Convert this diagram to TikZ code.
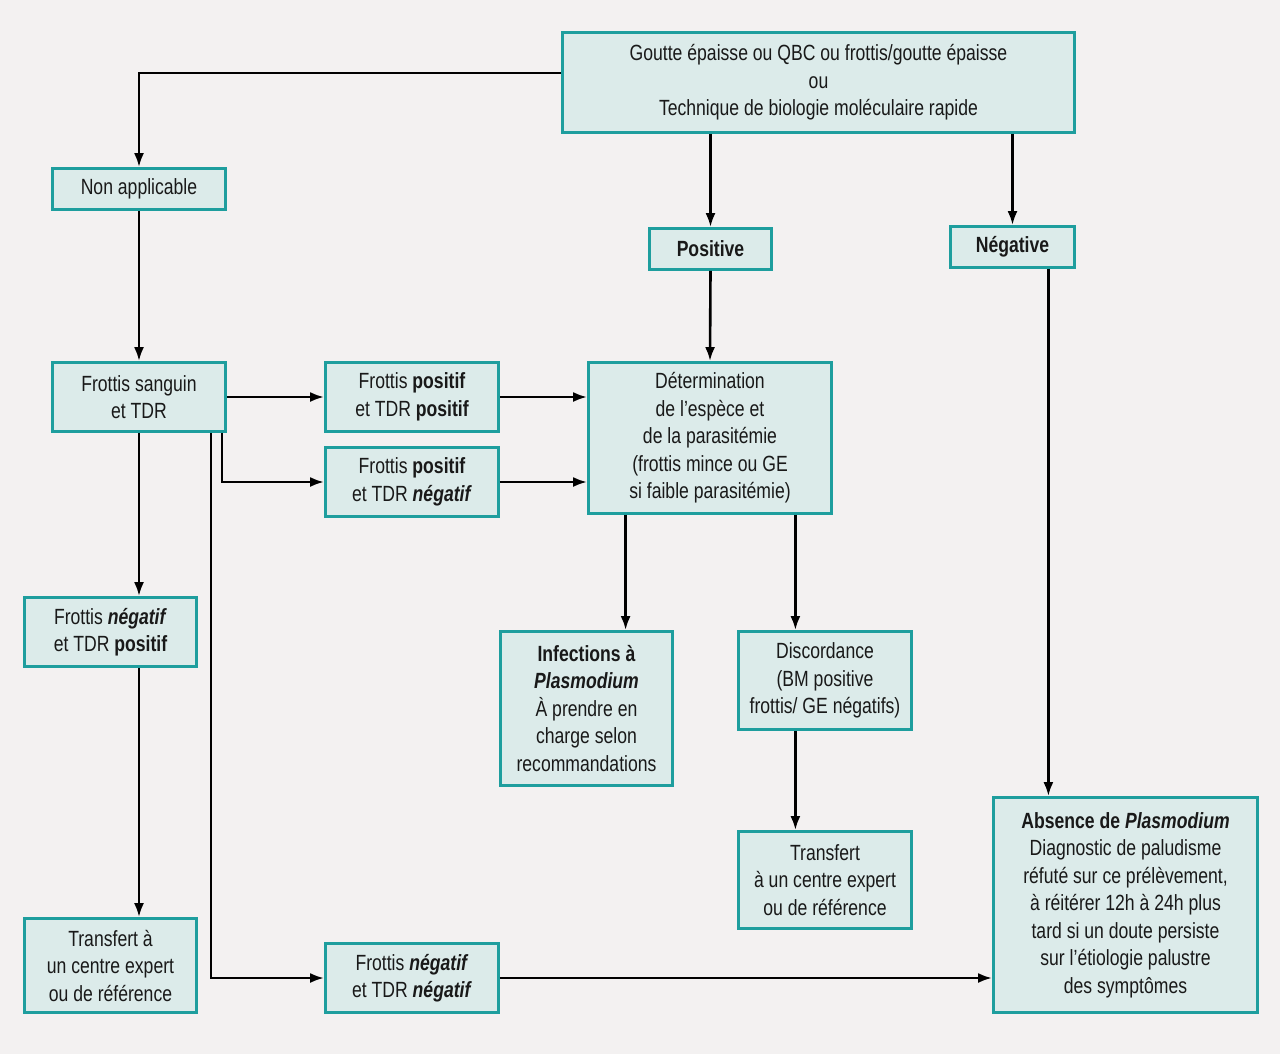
\documentclass[tikz,border=0pt]{standalone}
\usepackage{fontspec}
\setmainfont{Liberation Sans}[FakeStretch=0.8]
\usetikzlibrary{arrows.meta}
\definecolor{bgc}{HTML}{F3F1F1}
\definecolor{boxfill}{HTML}{DCEBEA}
\definecolor{boxline}{HTML}{1E9E9E}
\tikzset{
  box/.style={draw=boxline, fill=boxfill, line width=2.8pt, align=center, inner sep=2pt,
    font=\fontsize{22}{27.5}\selectfont, text=black!90},
  arr/.style={draw=black, line width=2.6pt, -{Latex[length=14pt,width=10pt]}},
}
\begin{document}
\begin{tikzpicture}[x=1pt,y=-1pt]
\fill[bgc] (0,0) rectangle (1280,1054);
\useasboundingbox (0,0) rectangle (1280,1054);

\node[box, minimum width=512pt, minimum height=100pt] (top) at (818.5,82.5)
  {Goutte épaisse ou QBC ou frottis/goutte épaisse\\ou\\Technique de biologie moléculaire rapide};
\node[box, minimum width=173pt, minimum height=41pt] (nonapp) at (139,189) {Non applicable};
\node[box, minimum width=122pt, minimum height=41pt] (positive) at (710.5,249) {\textbf{Positive}};
\node[box, minimum width=124pt, minimum height=41pt] (negative) at (1012.5,247) {\textbf{Négative}};
\node[box, minimum width=173pt, minimum height=69pt] (fsang) at (139,397) {Frottis sanguin\\et TDR};
\node[box, minimum width=173pt, minimum height=69pt] (fptp) at (412,397) {Frottis \textbf{positif}\\et TDR \textbf{positif}};
\node[box, minimum width=173pt, minimum height=69pt] (fptn) at (412,482) {Frottis \textbf{positif}\\et TDR \textbf{\textit{négatif}}};
\node[box, minimum width=243pt, minimum height=151pt] (det) at (710,438)
  {Détermination\\de l’espèce et\\de la parasitémie\\(frottis mince ou GE\\si faible parasitémie)};
\node[box, minimum width=172pt, minimum height=69pt] (fntp) at (110.5,632) {Frottis \textbf{\textit{négatif}}\\et TDR \textbf{positif}};
\node[box, minimum width=172pt, minimum height=154pt] (inf) at (586.5,708.5)
  {\textbf{Infections à}\\\textbf{\textit{Plasmodium}}\\À prendre en\\charge selon\\recommandations};
\node[box, minimum width=173pt, minimum height=98pt] (disc) at (825,680.5)
  {Discordance\\(BM positive\\frottis/ GE négatifs)};
\node[box, minimum width=173pt, minimum height=97pt] (trm) at (825,880)
  {Transfert\\à un centre expert\\ou de référence};
\node[box, minimum width=264pt, minimum height=215pt] (abs) at (1125.5,905)
  {\textbf{Absence de \textit{Plasmodium}}\\Diagnostic de paludisme\\réfuté sur ce prélèvement,\\à réitérer 12h à 24h plus\\tard si un doute persiste\\sur l’étiologie palustre\\des symptômes};
\node[box, minimum width=172pt, minimum height=94pt] (trl) at (110.5,965.5)
  {Transfert à\\un centre expert\\ou de référence};
\node[box, minimum width=173pt, minimum height=69pt] (fntn) at (412,978)
  {Frottis \textbf{\textit{négatif}}\\et TDR \textbf{\textit{négatif}}};

% connectors
\draw[arr] ([yshift=9.5pt]top.west) -| (nonapp.north);
\draw[arr] (positive.north |- top.south) -- (positive.north);
\draw[arr] (negative.north |- top.south) -- (negative.north);
\draw[arr] (nonapp.south) -- (fsang.north);
\draw[arr] (positive.south) -- (det.north);
\draw[arr] (fsang.east) -- (fptp.west);
\coordinate (s1) at ([xshift=-5pt]fsang.south east);
\draw[arr] (s1) |- (fptn.west);
\draw[arr] (fptp.east) -- (fptp.east -| det.west);
\draw[arr] (fptn.east) -- (fptn.east -| det.west);
\draw[arr] (fsang.south) -- (fsang.south |- fntp.north);
\coordinate (s2) at ([xshift=-16pt]fsang.south east);
\draw[arr] (s2) |- (fntn.west);
\draw[arr] (fntp.south -| fsang.south) -- (trl.north -| fsang.south);
\coordinate (d1) at ([xshift=38.5pt]det.south west);
\draw[arr] (d1) -- (d1 |- inf.north);
\coordinate (d2) at ([xshift=-37.5pt]det.south east);
\draw[arr] (d2) -- (d2 |- disc.north);
\draw[arr] (d2 |- disc.south) -- (d2 |- trm.north);
\coordinate (n1) at ([xshift=-27.5pt]negative.south east);
\draw[arr] (n1) -- (n1 |- abs.north);
\draw[arr] (fntn.east) -- (fntn.east -| abs.west);
\end{tikzpicture}
\end{document}
